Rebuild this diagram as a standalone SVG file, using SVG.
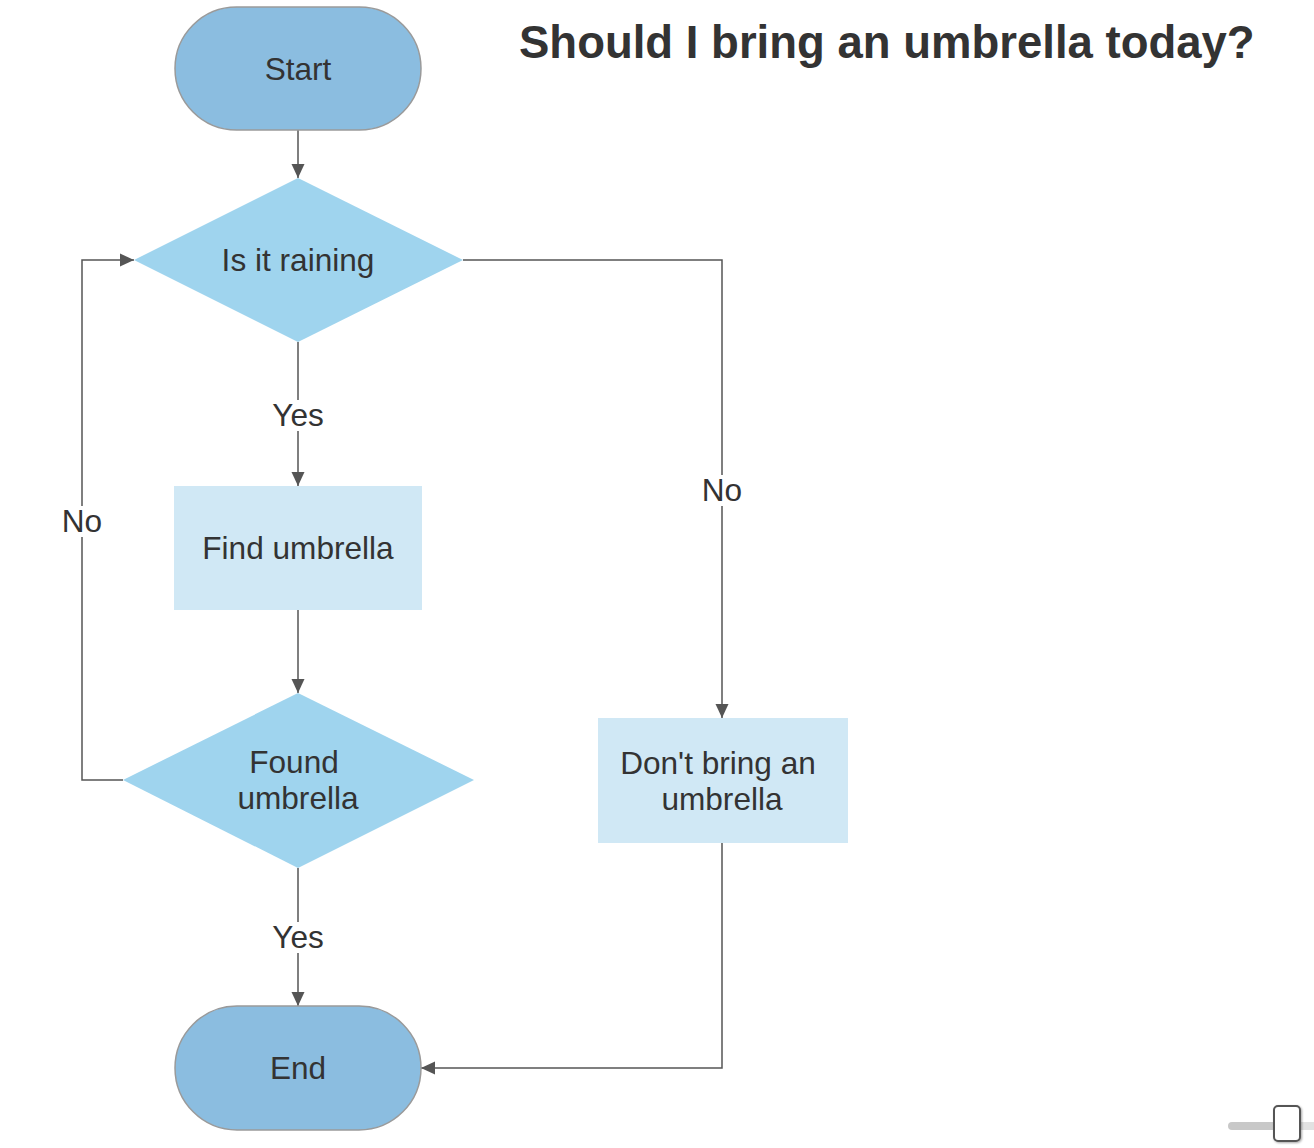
<svg xmlns="http://www.w3.org/2000/svg" width="1314" height="1148" viewBox="0 0 1314 1148">
<style>
.term{fill:#8BBDE0;stroke:#9a9a9a;stroke-width:1.5}
.dec{fill:#9FD4EE}
.proc{fill:#D0E8F5}
.t{font-family:"Liberation Sans",Arial,sans-serif;font-size:31.6px;fill:#333;text-anchor:middle}
.title{font-family:"Liberation Sans",Arial,sans-serif;font-size:45.5px;font-weight:bold;fill:#333}
.c{fill:none;stroke:#555;stroke-width:1.5}
.lbg{fill:#fff}
</style>
<defs>
<marker id="ahl" viewBox="0 0 14 14" refX="14" refY="7" markerWidth="14" markerHeight="14" markerUnits="userSpaceOnUse" orient="auto">
<path d="M0,0.5 L14,7 L0,13.5 z" fill="#555"/>
</marker>
<filter id="sh" x="-30%" y="-30%" width="160%" height="160%">
<feDropShadow dx="1" dy="1" stdDeviation="1.2" flood-color="#000" flood-opacity="0.35"/>
</filter>
</defs>
<rect width="1314" height="1148" fill="#fff"/>
<text class="title" x="519" y="58">Should I bring an umbrella today?</text>
<g id="connectors">
<path class="c" d="M298,130 V178" marker-end="url(#ahl)"/>
<path class="c" d="M298,342 V486" marker-end="url(#ahl)"/>
<path class="c" d="M298,610 V693" marker-end="url(#ahl)"/>
<path class="c" d="M298,868 V1006" marker-end="url(#ahl)"/>
<path class="c" d="M123,780 H82 V260 H134" marker-end="url(#ahl)"/>
<path class="c" d="M463,260 H722 V718" marker-end="url(#ahl)"/>
<path class="c" d="M722,843 V1068 H421" marker-end="url(#ahl)"/>
<g id="labels">
<rect class="lbg" x="272" y="400" width="52" height="31"/>
<text class="t" x="298" y="426">Yes</text>
<rect class="lbg" x="272" y="922" width="52" height="31"/>
<text class="t" x="298" y="948">Yes</text>
<rect class="lbg" x="62" y="506" width="40" height="31"/>
<text class="t" x="82" y="532">No</text>
<rect class="lbg" x="702" y="475" width="40" height="31"/>
<text class="t" x="722" y="501">No</text>
</g>
</g>
<g id="start">
<rect class="term" x="175" y="7" width="246" height="123" rx="61.5"/>
<text class="t" x="298" y="80">Start</text>
</g>
<g id="raining">
<polygon class="dec" points="298,178 463,260 298,342 134,260"/>
<text class="t" x="298" y="271">Is it raining</text>
</g>
<g id="find">
<rect class="proc" x="174" y="486" width="248" height="124"/>
<text class="t" x="298" y="559">Find umbrella</text>
</g>
<g id="found">
<polygon class="dec" points="298,693 474,780 298,868 123,780"/>
<text class="t" x="294" y="773">Found</text>
<text class="t" x="298" y="809">umbrella</text>
</g>
<g id="dontbring">
<rect class="proc" x="598" y="718" width="250" height="125"/>
<text class="t" x="718" y="774">Don't bring an</text>
<text class="t" x="722" y="810">umbrella</text>
</g>
<g id="end">
<rect class="term" x="175" y="1006" width="246" height="124" rx="62"/>
<text class="t" x="298" y="1079">End</text>
</g>
<g id="slider">
<rect x="1228" y="1122" width="60" height="8" rx="4" fill="#c8c8c8"/>
<rect x="1286" y="1122" width="28" height="8" fill="#e2e2e2"/>
<rect x="1274" y="1106" width="26" height="35" rx="4" fill="#fff" stroke="#555" stroke-width="2" filter="url(#sh)"/>
</g>
</svg>
